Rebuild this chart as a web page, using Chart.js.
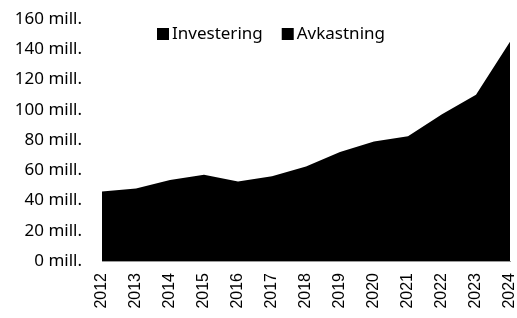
<!DOCTYPE html>
<html>
<head>
<meta charset="utf-8">
<script src="https://cdn.jsdelivr.net/npm/chart.js@4"></script>
<style>
html,body{margin:0;padding:0;background:#fff;}
#wrap{width:517px;height:318px;}
</style>
</head>
<body>
<div id="wrap"><canvas id="c" width="517" height="318"></canvas></div>
<script>
const years = ['2012','2013','2014','2015','2016','2017','2018','2019','2020','2021','2022','2023','2024'];
const investering = [40, 42, 45, 48, 50, 52, 55, 58, 62, 66, 70, 75, 80.5];
const avkastning  = [6, 6, 8.5, 9, 2.5, 4, 7.5, 14, 17, 16.5, 27, 35, 64.5];
const seriesNames = ['Investering', 'Avkastning'];
const yTicks = [0, 20, 40, 60, 80, 100, 120, 140, 160];

const legendPlugin = {
  id: 'customLegend',
  afterDraw(chart) {
    const ctx = chart.ctx;
    ctx.save();
    ctx.font = '17px "Noto Sans", sans-serif';
    ctx.textBaseline = 'middle';
    let x = 157;
    const y = 34;
    chart.data.datasets.forEach((ds, i) => {
      ctx.fillStyle = ds.backgroundColor;
      ctx.fillRect(x, y - 6, 12, 12);
      x += 15;
      ctx.fillStyle = '#000';
      ctx.fillText(ds.label, x, y);
      x += ctx.measureText(ds.label).width + 19;
    });
    ctx.restore();
  }
};

new Chart(document.getElementById('c'), {
  type: 'line',
  data: {
    labels: years,
    datasets: [
      { label: seriesNames[0], data: investering, backgroundColor: '#000', borderColor: '#000', borderWidth: 0, fill: 'origin', pointRadius: 0, tension: 0 },
      { label: seriesNames[1], data: avkastning, backgroundColor: '#000', borderColor: '#000', borderWidth: 0, fill: 'origin', pointRadius: 0, tension: 0 }
    ]
  },
  options: {
    responsive: false,
    animation: false,
    layout: { padding: { top: 19, right: 7, left: 0, bottom: 0 } },
    plugins: { legend: { display: false }, tooltip: { enabled: false } },
    scales: {
      x: {
        offset: false,
        grid: { display: false, drawTicks: false },
        border: { display: true, color: '#9a9a9a', width: 1 },
        ticks: { color: '#000', font: { family: '"Liberation Sans", Arial, sans-serif', size: 16 }, maxRotation: 90, minRotation: 90, padding: 12, autoSkip: false },
        afterFit(scale) { scale.height = 57; scale.paddingLeft = 0; scale.paddingRight = 0; }
      },
      y: {
        stacked: true,
        min: 0, max: 160,
        afterBuildTicks(scale) { scale.ticks = yTicks.map(v => ({ value: v })); },
        grid: { display: false, drawTicks: false },
        border: { display: false },
        ticks: { color: '#000', font: { family: '"Noto Sans", sans-serif', size: 17 }, padding: 20, callback: v => v + ' mill.' },
        afterFit(scale) { scale.width = 102; scale.paddingTop = 0; scale.paddingBottom = 0; }
      }
    }
  },
  plugins: [legendPlugin]
});
</script>
</body>
</html>
